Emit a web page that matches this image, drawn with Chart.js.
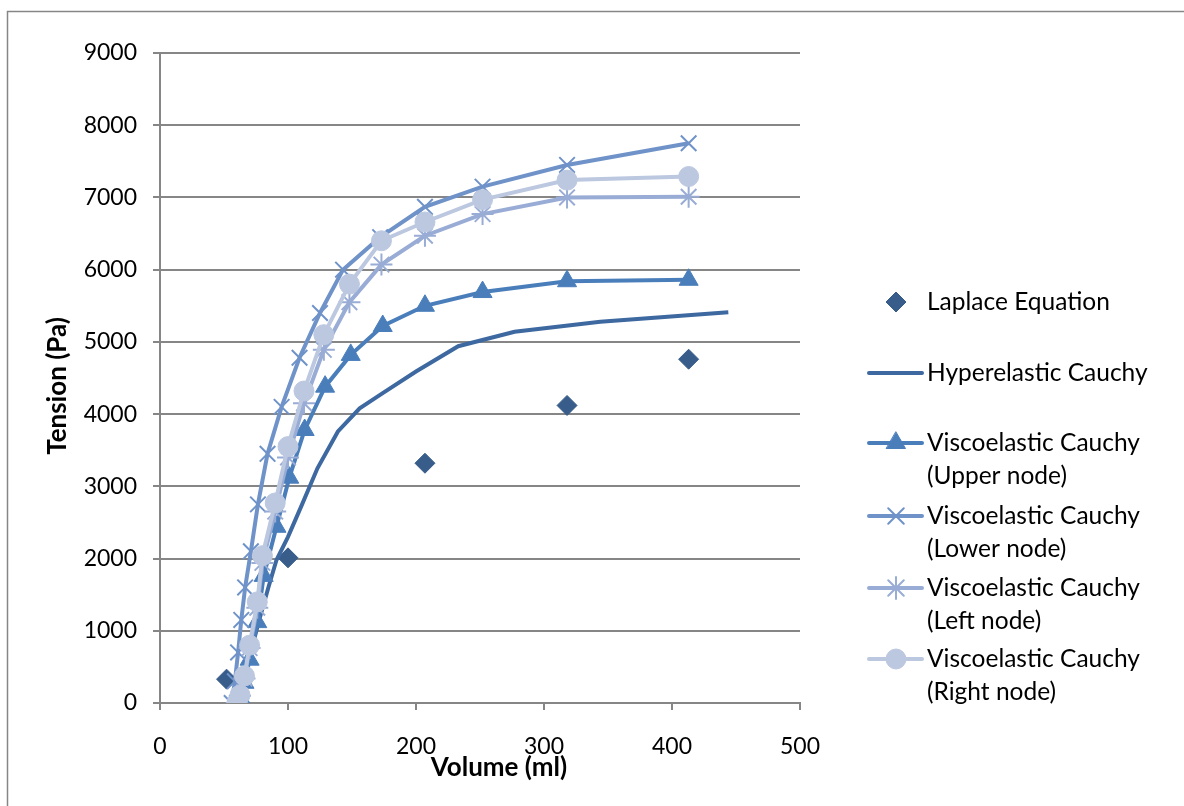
<!DOCTYPE html>
<html>
<head>
<meta charset="utf-8">
<script src="https://cdn.jsdelivr.net/npm/chart.js@4.4.0/dist/chart.umd.min.js"></script>
<style>
  body { margin: 0; background: #fff; }
  #wrap { width: 1184px; height: 806px; position: relative; }
</style>
</head>
<body>
<div id="wrap"><canvas id="myChart"></canvas></div>
<script>
// volume (ml) / tension (Pa) pairs for each series
const laplaceVol = [52, 100, 207, 318, 413];
const laplaceTension = [330, 2010, 3320, 4120, 4760];

const hyperVol = [60, 66, 72, 78, 85, 91, 100, 111, 123, 139, 156, 174, 200, 233, 277, 344, 444];
const hyperTension = [0, 380, 780, 1180, 1620, 1980, 2300, 2750, 3250, 3760, 4080, 4290, 4590, 4940, 5140, 5280, 5410];

const upperVol = [60, 62.5, 66, 70, 76, 81, 91, 101, 113, 129, 149, 174, 207, 252, 318, 413];
const upperTension = [0, 80, 280, 600, 1120, 1760, 2440, 3120, 3780, 4380, 4820, 5220, 5500, 5690, 5840, 5860];

const lowerVol = [56, 58.5, 61, 63.5, 66.5, 71, 76.5, 84, 95, 109, 125, 143, 172, 207, 252, 318, 413];
const lowerTension = [0, 300, 700, 1150, 1600, 2100, 2750, 3450, 4100, 4780, 5400, 6000, 6450, 6870, 7150, 7450, 7750];

const leftVol = [60, 62.5, 66, 70, 76, 80, 90, 100, 112.5, 128, 148, 173, 207, 252, 318, 413];
const leftTension = [0, 100, 340, 760, 1320, 1940, 2650, 3400, 4150, 4890, 5550, 6070, 6470, 6770, 7000, 7010];

const rightVol = [60, 62.5, 66, 70, 76, 80, 90, 100, 112.5, 128, 148, 173, 207, 252, 318, 413];
const rightTension = [0, 110, 375, 800, 1400, 2040, 2770, 3550, 4320, 5100, 5800, 6400, 6660, 6970, 7240, 7290];

const xTicks = [0, 100, 200, 300, 400, 500];
const yTicks = [0, 1000, 2000, 3000, 4000, 5000, 6000, 7000, 8000, 9000];

const pts = (xs, ys) => xs.map((x, i) => ({ x: x, y: ys[i] }));

const FONT = 'Lato';
const GRID = '#868686';

// legend entries: label lines + row positions
const legendRows = [
  { lines: ['Laplace Equation'], y: 302 },
  { lines: ['Hyperelastic Cauchy'], y: 373 },
  { lines: ['Viscoelastic Cauchy', '(Upper node)'], y: 443 },
  { lines: ['Viscoelastic Cauchy', '(Lower node)'], y: 516 },
  { lines: ['Viscoelastic Cauchy', '(Left node)'], y: 588 },
  { lines: ['Viscoelastic Cauchy', '(Right node)'], y: 659 }
];

const frameAndLegend = {
  id: 'frameAndLegend',
  beforeDraw(chart) {
    const c = chart.ctx;
    c.save();
    c.strokeStyle = GRID;
    c.lineWidth = 1.5;
    c.beginPath();
    c.moveTo(7.5, 820);
    c.lineTo(7.5, 11.5);
    c.lineTo(1200, 11.5);
    c.stroke();
    c.restore();
  },
  afterDraw(chart) {
    const c = chart.ctx;
    c.save();
    // axis titles
    c.fillStyle = '#000';
    c.font = 'bold 26px ' + FONT;
    c.textAlign = 'center';
    c.textBaseline = 'middle';
    c.fillText('Volume (ml)', 499, 768);
    c.translate(58, 386);
    c.rotate(-Math.PI / 2);
    c.fillText('Tension (Pa)', 0, 0);
    c.restore();

    // legend
    c.save();
    chart.data.datasets.forEach((ds, i) => {
      const row = legendRows[i];
      if (ds.showLine) {
        c.strokeStyle = ds.borderColor;
        c.lineWidth = 4;
        c.lineCap = 'round';
        c.beginPath();
        c.moveTo(869, row.y);
        c.lineTo(922, row.y);
        c.stroke();
      }
      if (ds.pointRadius > 0) {
        c.fillStyle = ds.pointBackgroundColor;
        c.strokeStyle = ds.pointBorderColor;
        c.lineWidth = ds.pointBorderWidth;
        Chart.helpers.drawPoint(c, {
          pointStyle: ds.pointStyle,
          radius: ds.pointRadius,
          rotation: 0,
          borderWidth: ds.pointBorderWidth
        }, 896, row.y);
      }
      c.fillStyle = '#000';
      c.font = '24.5px ' + FONT;
      c.textAlign = 'left';
      c.textBaseline = 'middle';
      row.lines.forEach((t, k) => c.fillText(t, 927, row.y + k * 33));
    });
    c.restore();
  }
};

const lineSet = (label, data, color, style, radius, bw, order) => ({
  label: label,
  data: data,
  showLine: true,
  borderColor: color,
  borderWidth: 4,
  pointStyle: style,
  pointRadius: radius,
  pointHoverRadius: radius,
  pointBackgroundColor: color,
  pointBorderColor: color,
  pointBorderWidth: bw,
  tension: 0,
  order: order
});

new Chart(document.getElementById('myChart'), {
  type: 'scatter',
  data: {
    datasets: [
      {
        label: 'Laplace Equation',
        data: pts(laplaceVol, laplaceTension),
        showLine: false,
        pointStyle: 'rectRot',
        pointRadius: 10,
        pointBackgroundColor: '#385d8a',
        pointBorderColor: '#385d8a',
        pointBorderWidth: 1,
        order: 6
      },
      lineSet('Hyperelastic Cauchy', pts(hyperVol, hyperTension), '#3d68a0', false, 0, 0, 5),
      lineSet('Viscoelastic Cauchy (Upper node)', pts(upperVol, upperTension), '#4a7ebb', 'triangle', 11, 1, 4),
      lineSet('Viscoelastic Cauchy (Lower node)', pts(lowerVol, lowerTension), '#6f93c9', 'crossRot', 11, 2, 3),
      lineSet('Viscoelastic Cauchy (Left node)', pts(leftVol, leftTension), '#98acd5', 'star', 11, 2, 2),
      lineSet('Viscoelastic Cauchy (Right node)', pts(rightVol, rightTension), '#bcc8e0', 'circle', 10, 1, 1)
    ]
  },
  options: {
    responsive: true,
    maintainAspectRatio: false,
    animation: false,
    layout: { padding: { left: 0, top: 53, right: 384, bottom: 0 } },
    plugins: {
      legend: { display: false },
      tooltip: { enabled: false }
    },
    scales: {
      x: {
        type: 'linear',
        min: 0,
        max: 500,
        afterFit: s => { s.height = 103; },
        afterBuildTicks: s => { s.ticks = xTicks.map(v => ({ value: v })); },
        grid: { drawOnChartArea: false, color: GRID, lineWidth: 2, tickLength: 7 },
        border: { color: GRID, width: 2 },
        ticks: {
          padding: 23, color: '#000', font: { family: FONT, size: 23 }, maxRotation: 0,
          callback: v => String(v)
        }
      },
      y: {
        type: 'linear',
        min: 0,
        max: 9000,
        afterFit: s => { s.width = 160; },
        afterBuildTicks: s => { s.ticks = yTicks.map(v => ({ value: v })); },
        grid: { color: GRID, lineWidth: 2, tickLength: 7 },
        border: { color: GRID, width: 2 },
        ticks: {
          padding: 16, color: '#000', font: { family: FONT, size: 23 },
          callback: v => String(v)
        }
      }
    }
  },
  plugins: [frameAndLegend]
});
</script>
</body>
</html>
